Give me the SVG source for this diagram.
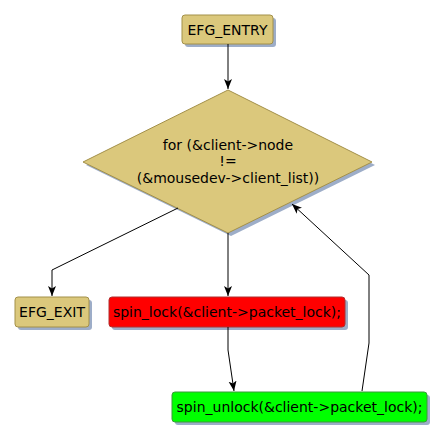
<svg xmlns="http://www.w3.org/2000/svg" width="445" height="440" viewBox="0 0 445 440">
<style>
.shadow{fill:#9dadc8;stroke:none}
.term{fill:#dbc87c;stroke:#a39049;stroke-width:1}
.t{font-family:"DejaVu Sans",sans-serif;font-size:14px;fill:#000;text-anchor:middle}
.c{fill:none;stroke:#000;stroke-width:1}
</style>
<defs>
<marker id="ah" viewBox="0 0 10 10" refX="10" refY="5" markerWidth="10" markerHeight="10" markerUnits="userSpaceOnUse" orient="auto">
<path d="M0,1 L10,5 L0,9 L2.5,5 Z" fill="#000"/>
</marker>
</defs>
<rect width="445" height="440" fill="#fff"/>
<g id="entry">
<rect class="shadow" x="185" y="18" width="91" height="29" rx="3"/>
<rect class="term" x="182" y="15" width="91" height="29" rx="3"/>
<text class="t" x="227.5" y="35">EFG_ENTRY</text>
</g>
<g id="decision">
<polygon class="shadow" points="231,93 375,165 231,236 86,165"/>
<polygon class="term" points="228,90 372,162 228,233 83,162"/>
<text class="t" x="228" y="150">for (&amp;client-&gt;node</text>
<text class="t" x="228" y="166">!=</text>
<text class="t" x="228" y="183">(&amp;mousedev-&gt;client_list))</text>
</g>
<g id="exit">
<rect class="shadow" x="18" y="300" width="74" height="30" rx="3"/>
<rect class="term" x="15" y="297" width="74" height="30" rx="3"/>
<text class="t" x="52" y="317">EFG_EXIT</text>
</g>
<g id="lock">
<rect class="shadow" x="112" y="300" width="236" height="30" rx="3"/>
<rect x="109" y="297" width="236" height="30" rx="3" fill="#ff0000" stroke="#b03030"/>
<text class="t" x="227" y="317">spin_lock(&amp;client-&gt;packet_lock);</text>
</g>
<g id="unlock">
<rect class="shadow" x="175" y="395" width="255" height="30" rx="3"/>
<rect x="172" y="392" width="255" height="30" rx="3" fill="#00ff00" stroke="#3a9a3a"/>
<text class="t" x="299.5" y="412">spin_unlock(&amp;client-&gt;packet_lock);</text>
</g>
<g id="connectors">
<path class="c" d="M228,44 L228,89" marker-end="url(#ah)"/>
<path class="c" d="M178,208 L52,270 L52,296" marker-end="url(#ah)"/>
<path class="c" d="M228,233 L228,296" marker-end="url(#ah)"/>
<path class="c" d="M228,327 L228,350 L234,391" marker-end="url(#ah)"/>
<path class="c" d="M362,391 L369,343 L369,275 L292,204" marker-end="url(#ah)"/>
</g>
</svg>
